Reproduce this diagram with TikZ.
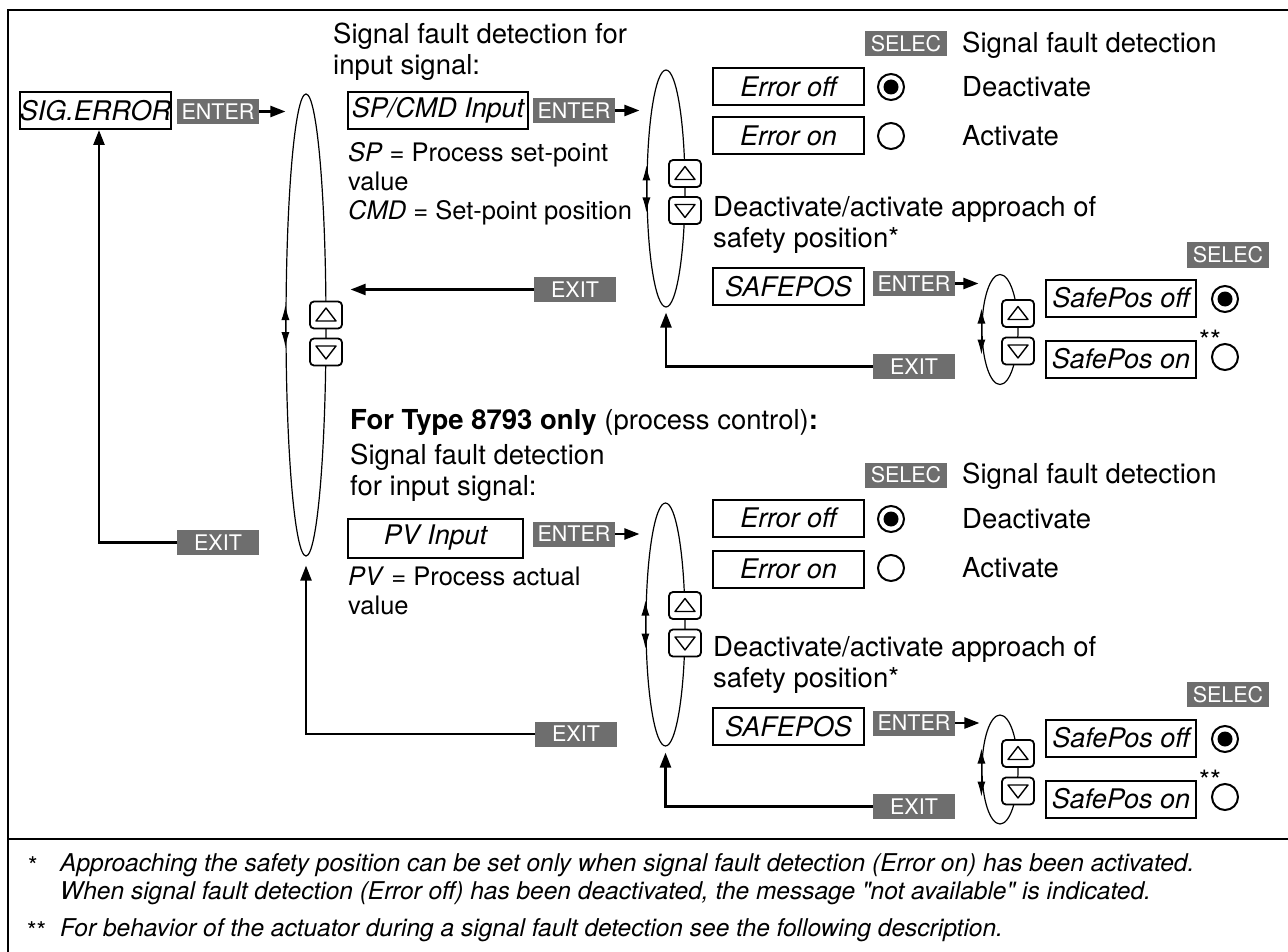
\documentclass[tikz,border=0pt]{standalone}
\usepackage{fontspec}
\setmainfont{TeX Gyre Heros}
\usepackage{tikz}
\usetikzlibrary{shapes.geometric, arrows.meta, calc}
\definecolor{keygray}{RGB}{110,110,110}
\newcommand{\descfont}{\fontsize{27.5}{31}\selectfont}
\newcommand{\boxfont}{\fontsize{27}{30}\selectfont\itshape}
\newcommand{\keyfont}{\fontsize{21.5}{24}\selectfont}
\newcommand{\notefont}{\fontsize{24.5}{28}\selectfont}
\tikzset{
  menubox/.style={rectangle, draw, line width=2pt, font=\boxfont,
    inner sep=0pt, minimum width=151pt, minimum height=37pt},
  keybox/.style={rectangle, fill=keygray, text=white, font=\keyfont,
    inner sep=0pt, minimum width=82pt, minimum height=25pt},
  loopring/.style={ellipse, draw, line width=1.2pt, inner sep=0pt},
  btnup/.style={rectangle, draw, fill=white, rounded corners=4pt,
    line width=1.8pt, minimum width=32pt, minimum height=27pt, inner sep=0pt,
    path picture={\draw[line width=1.4pt, sharp corners, line join=round]
      ([shift={(-10pt,-6pt)}]path picture bounding box.center) --
      ([shift={(10pt,-6pt)}]path picture bounding box.center) --
      ([shift={(0pt,7pt)}]path picture bounding box.center) -- cycle;}},
  btndown/.style={rectangle, draw, fill=white, rounded corners=4pt,
    line width=1.8pt, minimum width=32pt, minimum height=27pt, inner sep=0pt,
    path picture={\draw[line width=1.4pt, sharp corners, line join=round]
      ([shift={(-10pt,6pt)}]path picture bounding box.center) --
      ([shift={(10pt,6pt)}]path picture bounding box.center) --
      ([shift={(0pt,-7pt)}]path picture bounding box.center) -- cycle;}},
  radio/.style={circle, draw, line width=2pt, minimum size=26pt, inner sep=0pt},
  radioon/.style={radio, path picture={\fill (path picture bounding box.center) circle (7.5pt);}},
  desc/.style={font=\descfont, align=left, inner sep=0pt, anchor=west},
  note/.style={font=\notefont, align=left, inner sep=0pt, anchor=west},
  stars/.style={font=\fontsize{28}{30}\selectfont, inner sep=0pt},
  arrow/.style={-{Triangle[length=15pt,width=11pt]}, line width=2.5pt},
  updown/.style={{Latex[length=15pt,width=8pt]}-{Latex[length=15pt,width=8pt]}, line width=1.2pt},
  frame/.style={line width=2pt}
}

\begin{document}
\begin{tikzpicture}[x=1pt, y=-1pt]
  \useasboundingbox (0,0) rectangle (1288,952);

  % Frame and footnote rule
  \draw[frame] (8,952) -- (8,10) -- (1288,10);
  \draw[frame] (8,839) -- (1288,839);

  % Main menu entry
  \node[menubox, minimum width=149pt] (sigerr) at (95.5,110.5) {SIG.ERROR};
  \node[keybox] (enterA) at (218,111.5) {ENTER};
  \node[loopring, minimum width=40pt, minimum height=462pt] (loopA) at (306,325) {};
  \node[btnup] (upA) at (326,315) {};
  \node[btndown] (dnA) at (326,352) {};
  \draw[updown] ([yshift=20pt]loopA.west) -- ([yshift=-22pt]loopA.west);
  \node[keybox] (exitA) at (218,542.5) {EXIT};
  \draw[arrow] (enterA.east) -- (enterA.east -| loopA.west);
  \draw[arrow] (exitA.west) -| ([xshift=3.5pt]sigerr.south);

  % Input signal SP/CMD
  \node[desc] (titleA) at (333,51.5) {Signal fault detection for\\input signal:};
  \node[menubox, minimum width=180pt] (spcmd) at (438,110.5) {SP/CMD Input};
  \node[desc, font=\fontsize{25.5}{29}\selectfont] (spnote) at (348,184)
    {\textit{SP} = Process set-point\\value\\\textit{CMD} = Set-point position};
  \node[keybox] (enterB) at (574,110.5) {ENTER};
  \node[loopring, minimum width=38pt, minimum height=237pt] (loopB) at (666,188.5) {};
  \node[btnup] (upB) at (685,173.5) {};
  \node[btndown] (dnB) at (685,210.5) {};
  \draw[updown] ([yshift=23pt]loopB.west) -- ([yshift=-24pt]loopB.west);
  \node[keybox] (exitB) at (575,289.5) {EXIT};
  \draw[arrow, shorten >=7pt] (enterB.east) -- (enterB.east -| loopB.west);
  \draw[arrow, shorten >=24pt] (exitB.west) -- (exitB.west -| loopA.east);

  % Error off / Error on
  \node[keybox] (selA) at (906,43.5) {SELEC};
  \node[desc] (selAtxt) at (962,45) {Signal fault detection};
  \node[menubox] (erroffA) at (788.5,86.5) {Error off};
  \node[menubox] (erronA) at (788.5,136) {Error on};
  \node[radioon] (radA1) at (891,87) {};
  \node[radio] (radA2) at (891,136) {};
  \node[desc] (deactA) at (962,87) {Deactivate};
  \node[desc] (actA) at (962,136) {Activate};

  % Safety position
  \node[desc] (safetxtA) at (713,224.5) {Deactivate/activate approach of\\safety position*};
  \node[menubox] (safeposA) at (788.5,286.5) {SAFEPOS};
  \node[keybox] (enterC) at (914,283.5) {ENTER};
  \node[loopring, minimum width=36pt, minimum height=110pt] (loopC) at (1000,329.5) {};
  \node[btnup] (upC) at (1018,313.5) {};
  \node[btndown] (dnC) at (1018,351) {};
  \draw[updown] ([yshift=21pt]loopC.west) -- ([yshift=-25pt]loopC.west);
  \node[keybox] (selB) at (1228,255) {SELEC};
  \node[menubox, minimum width=150pt] (safeoffA) at (1121,298) {SafePos off};
  \node[menubox, minimum width=150pt] (safeonA) at (1121,359) {SafePos on};
  \node[radioon] (radA3) at (1225,299) {};
  \node[radio] (radA4) at (1225,357) {};
  \node[stars] (starsA) at (1210,340) {**};
  \node[keybox] (exitC) at (914,366.5) {EXIT};
  \draw[arrow, shorten >=3pt] (enterC.east) -- (enterC.east -| loopC.west);
  \draw[arrow, shorten >=5pt] (exitC.west) -| (loopB.south);

  % Type 8793: input signal PV
  \node[desc] (typeline) at (350,422)
    {\textbf{For Type 8793 only} (process control)\textbf{:}};
  \node[desc] (titleB) at (350,472.5) {Signal fault detection\\for input signal:};
  \node[menubox, minimum width=175pt, minimum height=39pt] (pvinput) at (435.5,538) {PV Input};
  \node[desc, font=\fontsize{25.5}{29}\selectfont] (pvnote) at (348,591)
    {\textit{PV} = Process actual\\value};
  \node[keybox] (enterD) at (574,534) {ENTER};
  \node[loopring, minimum width=39pt, minimum height=243pt] (loopD) at (665.5,624.5) {};
  \node[btnup] (upD) at (685,605.5) {};
  \node[btndown] (dnD) at (685,643) {};
  \draw[updown] ([yshift=24pt]loopD.west) -- ([yshift=-24pt]loopD.west);
  \node[keybox] (exitD) at (576,734) {EXIT};
  \draw[arrow, shorten >=6pt] (enterD.east) -- (enterD.east -| loopD.west);
  \draw[arrow, shorten >=9pt] (exitD.west) -| (loopA.south);

  % Error off / Error on
  \node[keybox] (selC) at (906,475) {SELEC};
  \node[desc] (selCtxt) at (962,476) {Signal fault detection};
  \node[menubox] (erroffB) at (788.5,518) {Error off};
  \node[menubox] (erronB) at (788.5,569) {Error on};
  \node[radioon] (radB1) at (891,519) {};
  \node[radio] (radB2) at (891,568) {};
  \node[desc] (deactB) at (962,519) {Deactivate};
  \node[desc] (actB) at (962,568) {Activate};

  % Safety position
  \node[desc] (safetxtB) at (713,664.5) {Deactivate/activate approach of\\safety position*};
  \node[menubox] (safeposB) at (788.5,726.5) {SAFEPOS};
  \node[keybox] (enterE) at (914,723) {ENTER};
  \node[loopring, minimum width=36pt, minimum height=109pt] (loopE) at (1000,769.5) {};
  \node[btnup] (upE) at (1018,753.5) {};
  \node[btndown] (dnE) at (1018,791) {};
  \draw[updown] ([yshift=21pt]loopE.west) -- ([yshift=-27pt]loopE.west);
  \node[keybox] (selD) at (1228,694.5) {SELEC};
  \node[menubox, minimum width=150pt] (safeoffB) at (1121,738) {SafePos off};
  \node[menubox, minimum width=150pt] (safeonB) at (1121,799) {SafePos on};
  \node[radioon] (radB3) at (1225,739) {};
  \node[radio] (radB4) at (1225,797) {};
  \node[stars] (starsB) at (1210,780) {**};
  \node[keybox] (exitE) at (914,806.5) {EXIT};
  \draw[arrow, shorten >=2pt] (enterE.east) -- (enterE.east -| loopE.west);
  \draw[arrow, shorten >=6pt] (exitE.west) -| (loopD.south);

  % Footnotes
  \node[note] (fnmark1) at (28,866) {*};
  \node[note, font=\notefont\itshape] (fn1) at (60,879)
    {Approaching the safety position can be set only when signal fault detection (Error on) has been activated.\\
     When signal fault detection (Error off) has been deactivated, the message \textquotedbl not available\textquotedbl\ is indicated.};
  \node[note] (fnmark2) at (27,931) {**};
  \node[note, font=\notefont\itshape] (fn2) at (60,930)
    {For behavior of the actuator during a signal fault detection see the following description.};
\end{tikzpicture}
\end{document}
